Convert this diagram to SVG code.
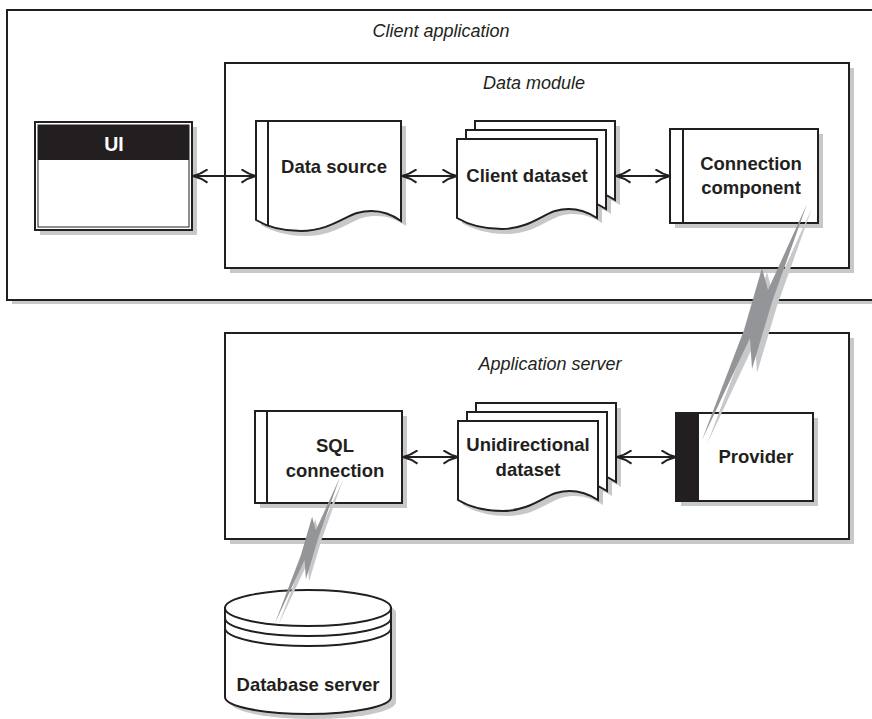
<svg xmlns="http://www.w3.org/2000/svg" xmlns:xlink="http://www.w3.org/1999/xlink" width="872" height="719" viewBox="0 0 872 719">
  <style>
    .ln{fill:#fff;stroke:#231f20;stroke-width:2}
    .nf{fill:none;stroke:#231f20;stroke-width:2}
    .sh{fill:#c8c8c8;stroke:none}
    .lbl{font-family:"Liberation Sans",Arial,Helvetica,sans-serif;font-weight:bold;font-size:18.5px;fill:#231f20;text-anchor:middle}
    .cap{font-family:"Liberation Sans",Arial,Helvetica,sans-serif;font-style:italic;font-size:18px;fill:#231f20;text-anchor:middle}
    .conn{fill:none;stroke:#231f20;stroke-width:2;marker-start:url(#arr);marker-end:url(#arr)}
    .bolt-dark{fill:#939598}
    .bolt-light{fill:#c7c8ca}
  </style>
  <defs>
    <marker id="arr" viewBox="0 0 16 15" refX="15" refY="7.5" markerWidth="16" markerHeight="15" markerUnits="userSpaceOnUse" orient="auto-start-reverse">
      <path d="M0.5,0.8 Q7,5.6 15,7.5 Q7,9.4 0.5,14.2" fill="none" stroke="#231f20" stroke-width="2"/>
    </marker>
    <!-- document page with a wavy bottom edge -->
    <path id="page" d="M0,0 H140 V79 C126,70 112,68 98,72 C85,76 70,90 45,90 C25,90 10,85 0,79 Z"/>
    <!-- three stacked pages, origin at the front page's top-left -->
    <g id="stack">
      <use xlink:href="#page" x="23" y="-13" class="sh"/>
      <use xlink:href="#page" x="14" y="-4" class="sh"/>
      <use xlink:href="#page" x="5" y="5" class="sh"/>
      <use xlink:href="#page" x="18" y="-18" class="ln"/>
      <use xlink:href="#page" x="9" y="-9" class="ln"/>
      <use xlink:href="#page" x="0" y="0" class="ln"/>
    </g>
    <!-- lightning link, origin at its upper tip -->
    <polygon id="boltShape" points="0,0 -35,98 -55,165 -57,134 -105,236 -63,126 -45,64 -39,86"/>
    <g id="bolt">
      <use xlink:href="#boltShape" x="5" y="4" class="bolt-light"/>
      <use xlink:href="#boltShape" class="bolt-dark"/>
    </g>
  </defs>

  <!-- containers -->
  <g id="client-application">
    <rect class="sh" x="12" y="14" width="880" height="290"/>
    <rect class="ln" x="7" y="10" width="880" height="290"/>
    <text class="cap" x="441" y="37">Client application</text>
  </g>
  <g id="data-module">
    <rect class="sh" x="230" y="68" width="624" height="205"/>
    <rect class="ln" x="225" y="63" width="624" height="205"/>
    <text class="cap" x="534" y="89">Data module</text>
  </g>
  <g id="application-server">
    <rect class="sh" x="230" y="338" width="624" height="206"/>
    <rect class="ln" x="225" y="333" width="624" height="206"/>
    <text class="cap" x="550" y="370">Application server</text>
  </g>

  <!-- nodes -->
  <g id="ui">
    <rect class="sh" x="40" y="127" width="157" height="108"/>
    <rect class="ln" x="35" y="122" width="157" height="108"/>
    <rect x="38" y="125" width="151" height="102" fill="none" stroke="#231f20" stroke-width="1"/>
    <rect x="38" y="125" width="151" height="35" fill="#231f20"/>
    <text class="lbl" x="114" y="151" style="fill:#fff;font-size:19.5px">UI</text>
  </g>

  <g id="data-source">
    <path class="sh" transform="translate(261,126)" d="M0,0 H145 V100 C131,90 116,88 101,92 C88,96 72,110 45,110 C25,110 10,105 0,99 Z"/>
    <path class="ln" transform="translate(256,121)" d="M0,0 H145 V100 C131,90 116,88 101,92 C88,96 72,110 45,110 C25,110 10,105 0,99 Z"/>
    <line class="nf" x1="268" y1="121" x2="268" y2="226"/>
    <text class="lbl" x="334" y="173">Data source</text>
  </g>

  <g id="client-dataset">
    <use xlink:href="#stack" x="457" y="139"/>
    <text class="lbl" x="527" y="182">Client dataset</text>
  </g>

  <g id="connection-component">
    <rect class="sh" x="675" y="134" width="148" height="94"/>
    <rect class="ln" x="670" y="129" width="148" height="94"/>
    <line class="nf" x1="683" y1="129" x2="683" y2="223"/>
    <text class="lbl" x="751" y="170">Connection</text>
    <text class="lbl" x="751" y="194">component</text>
  </g>

  <g id="sql-connection">
    <rect class="sh" x="260" y="416" width="147" height="92"/>
    <rect class="ln" x="255" y="411" width="147" height="92"/>
    <line class="nf" x1="267" y1="411" x2="267" y2="503"/>
    <text class="lbl" x="335" y="452">SQL</text>
    <text class="lbl" x="335" y="477">connection</text>
  </g>

  <g id="unidirectional-dataset">
    <use xlink:href="#stack" x="458" y="421"/>
    <text class="lbl" x="528" y="451">Unidirectional</text>
    <text class="lbl" x="528" y="476">dataset</text>
  </g>

  <g id="provider">
    <rect class="sh" x="681" y="418" width="137" height="88"/>
    <rect class="ln" x="676" y="413" width="137" height="88"/>
    <rect x="676" y="413" width="23" height="88" fill="#231f20"/>
    <text class="lbl" x="756" y="463">Provider</text>
  </g>

  <g id="database-server">
    <path class="sh" d="M230,613 V702 A83,17 0 0 0 396,702 V613 A83,18 0 0 0 230,613 Z"/>
    <path class="ln" d="M225,608 V697 A83,17 0 0 0 391,697 V608 Z"/>
    <ellipse class="ln" cx="308" cy="608" rx="83" ry="18"/>
    <path class="nf" d="M225,618 A83,18 0 0 0 391,618"/>
    <path class="nf" d="M225,628 A83,18 0 0 0 391,628"/>
    <text class="lbl" x="308" y="691">Database server</text>
  </g>

  <!-- connectors -->
  <g id="connectors">
    <line class="conn" x1="193" y1="176" x2="256" y2="176"/>
    <line class="conn" x1="402" y1="176" x2="457" y2="176"/>
    <line class="conn" x1="616" y1="176" x2="670" y2="176"/>
    <line class="conn" x1="403" y1="457" x2="458" y2="457"/>
    <line class="conn" x1="617" y1="457" x2="676" y2="457"/>
    <use xlink:href="#bolt" transform="translate(807,204)"/>
    <use xlink:href="#bolt" transform="translate(340,477) scale(0.62)"/>
  </g>
</svg>
